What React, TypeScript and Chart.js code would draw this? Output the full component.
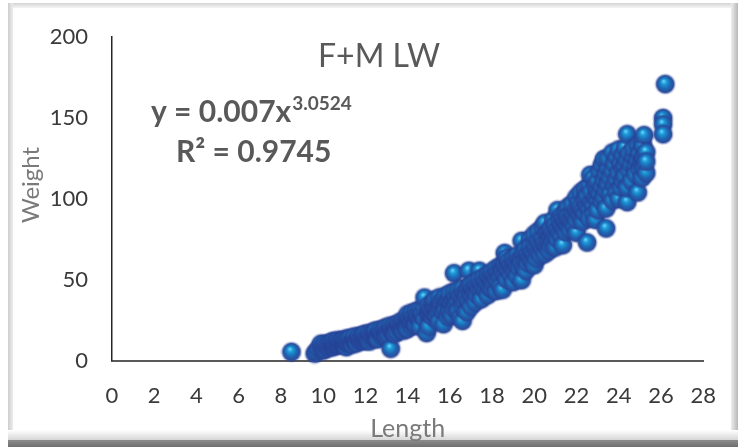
import React, { useEffect, useRef } from 'react';
import { Chart, registerables } from 'chart.js';

Chart.register(...registerables);

// ---- data ----
const chartTitle = 'F+M LW';
const equationMain = 'y = 0.007x';
const equationExponent = '3.0524';
const rSquaredText = 'R² = 0.9745';
const xAxisTitle = 'Length';
const yAxisTitle = 'Weight';
const xMin = 0, xMax = 28, xStep = 2;
const yMin = 0, yMax = 200, yStep = 50;

const lengths: number[] = [
  8.5, 9.6, 9.7, 9.8, 9.9, 10.0, 10.0, 10.1, 10.1, 10.2, 10.3, 10.3, 10.4, 10.4,
  10.5, 10.5, 10.5, 10.6, 10.6, 10.7, 10.7, 10.8, 10.8, 10.9, 10.9,
  11.0, 11.0, 11.0, 11.1, 11.1, 11.1, 11.2, 11.2, 11.3, 11.3, 11.4, 11.4,
  11.5, 11.5, 11.5, 11.6, 11.6, 11.7, 11.7, 11.8, 11.8, 11.9, 11.9,
  12.0, 12.0, 12.0, 12.1, 12.1, 12.2, 12.2, 12.2, 12.3, 12.3, 12.4, 12.4,
  12.5, 12.5, 12.5, 12.6, 12.6, 12.7, 12.7, 12.8, 12.8, 12.9, 12.9,
  13.0, 13.0, 13.0, 13.1, 13.1, 13.2, 13.2, 13.2, 13.3, 13.3, 13.4, 13.4, 13.4,
  13.5, 13.5, 13.6, 13.6, 13.7, 13.7, 13.8, 13.8, 13.8, 13.9, 13.9,
  14.0, 14.0, 14.0, 14.0, 14.1, 14.1, 14.2, 14.2, 14.2, 14.3, 14.3, 14.4, 14.4, 14.4,
  14.5, 14.5, 14.6, 14.6, 14.6, 14.7, 14.7, 14.8, 14.8, 14.8, 14.9,
  15.0, 15.0, 15.0, 15.0, 15.1, 15.1, 15.2, 15.2, 15.2, 15.3, 15.3, 15.3, 15.4, 15.4,
  15.5, 15.5, 15.5, 15.5, 15.6, 15.6, 15.7, 15.7, 15.7, 15.8, 15.8, 15.8, 15.9, 15.9,
  16.0, 16.0, 16.0, 16.0, 16.1, 16.1, 16.2, 16.2, 16.2, 16.2, 16.3, 16.3, 16.4, 16.4, 16.4,
  16.5, 16.5, 16.6, 16.6, 16.6, 16.6, 16.7, 16.7, 16.8, 16.8, 16.8, 16.9, 16.9, 16.9,
  17.0, 17.0, 17.0, 17.1, 17.1, 17.2, 17.2, 17.2, 17.3, 17.3, 17.4, 17.4, 17.4,
  17.5, 17.5, 17.5, 17.6, 17.6, 17.7, 17.7, 17.8, 17.8, 17.8, 17.9, 17.9,
  18.0, 18.0, 18.0, 18.1, 18.1, 18.2, 18.2, 18.2, 18.3, 18.3, 18.4, 18.4, 18.4,
  18.5, 18.5, 18.5, 18.6, 18.6, 18.6, 18.7, 18.7, 18.7, 18.8, 18.8, 18.9, 18.9,
  19.0, 19.0, 19.0, 19.1, 19.1, 19.2, 19.2, 19.2, 19.3, 19.3, 19.4, 19.4, 19.4, 19.4,
  19.5, 19.5, 19.6, 19.6, 19.6, 19.7, 19.7, 19.8, 19.8, 19.8, 19.9, 19.9,
  20.0, 20.0, 20.0, 20.0, 20.1, 20.1, 20.2, 20.2, 20.2, 20.3, 20.3, 20.4, 20.4, 20.4,
  20.5, 20.5, 20.5, 20.6, 20.6, 20.7, 20.7, 20.7, 20.8, 20.8, 20.8, 20.9, 20.9, 20.9,
  21.0, 21.0, 21.0, 21.1, 21.1, 21.1, 21.2, 21.2, 21.3, 21.3, 21.3, 21.35, 21.4, 21.4,
  21.5, 21.5, 21.5, 21.6, 21.6, 21.6, 21.7, 21.7, 21.8, 21.8, 21.8, 21.9, 21.9,
  22.0, 22.0, 22.0, 22.0, 22.1, 22.1, 22.2, 22.2, 22.2, 22.3, 22.3, 22.4, 22.4, 22.4,
  22.5, 22.5, 22.5, 22.6, 22.6, 22.6, 22.65, 22.7, 22.7, 22.8, 22.8, 22.8, 22.9, 22.9, 22.9,
  23.0, 23.0, 23.0, 23.0, 23.1, 23.1, 23.2, 23.2, 23.2, 23.3, 23.3, 23.3, 23.4, 23.4, 23.4, 23.4,
  23.5, 23.5, 23.5, 23.6, 23.6, 23.7, 23.7, 23.7, 23.8, 23.8, 23.9, 23.9, 23.9,
  24.0, 24.0, 24.0, 24.1, 24.1, 24.2, 24.2, 24.2, 24.3, 24.3, 24.3, 24.4, 24.4, 24.4, 24.4,
  24.5, 24.5, 24.6, 24.6, 24.7, 24.7, 24.8, 24.8, 24.9, 24.9, 24.9,
  25.0, 25.0, 25.1, 25.1, 25.1, 25.15, 25.15, 25.2, 25.2, 25.2, 25.3, 25.3, 25.3,
  26.1, 26.1, 26.1, 26.2,
];

const weights: number[] = [
  5.3, 4.3, 5.5, 7.5, 10.3, 6.3, 8.5, 7.2, 10.3, 9.0, 8.0, 10.5, 9.2, 11.5,
  8.5, 10.0, 12.0, 9.5, 11.0, 10.2, 12.5, 9.8, 11.8, 10.5, 12.2,
  9.6, 11.0, 13.0, 8.3, 11.5, 12.8, 10.8, 13.5, 11.6, 14.0, 12.0, 10.0,
  11.8, 13.2, 14.8, 12.6, 10.8, 13.0, 15.2, 12.2, 14.0, 13.5, 15.8,
  12.0, 14.2, 16.5, 13.0, 15.0, 14.5, 17.0, 11.8, 13.8, 16.0, 15.2, 17.8,
  14.0, 16.5, 18.5, 15.8, 13.2, 16.8, 19.0, 15.0, 17.5, 16.2, 19.8,
  17.0, 15.0, 20.5, 18.0, 16.0, 7.3, 19.0, 21.5, 17.5, 20.0, 18.8, 22.0, 16.5,
  20.5, 18.0, 21.0, 23.5, 19.5, 22.5, 21.8, 24.8, 18.5, 20.5, 23.5,
  22.0, 25.5, 19.5, 28.5, 23.0, 26.5, 21.5, 24.5, 29.5, 23.8, 27.0, 25.0, 22.0, 30.5,
  26.0, 28.5, 24.5, 31.5, 21.0, 27.5, 29.5, 25.5, 33.0, 38.9, 17.0,
  27.0, 30.0, 34.0, 21.0, 28.5, 32.0, 26.5, 35.5, 30.5, 29.0, 33.0, 37.5, 31.0, 27.5,
  34.5, 30.0, 39.0, 24.0, 32.5, 36.0, 29.5, 38.0, 22.5, 34.0, 31.5, 40.0, 36.5, 27.0,
  33.0, 38.0, 41.5, 30.0, 35.5, 28.0, 54.0, 37.5, 42.5, 32.0, 39.0, 34.5, 36.5, 43.5, 30.5,
  40.0, 26.5, 38.0, 44.5, 24.5, 33.5, 41.5, 36.0, 43.0, 39.0, 30.0, 55.5, 45.5, 37.0,
  41.0, 47.0, 33.5, 44.0, 39.5, 42.5, 48.5, 36.0, 46.0, 40.5, 55.5, 44.0, 50.0,
  47.5, 42.0, 38.0, 45.5, 51.5, 49.0, 43.0, 47.0, 53.0, 40.5, 51.5, 45.0,
  49.0, 55.0, 44.0, 52.5, 47.0, 50.5, 57.0, 43.0, 54.5, 48.5, 52.0, 58.5, 45.5,
  57.6, 43.8, 55.0, 66.5, 53.5, 60.0, 63.5, 57.0, 50.0, 55.5, 61.5, 59.0, 52.5,
  57.0, 63.0, 48.5, 60.5, 55.0, 58.5, 65.0, 52.0, 62.5, 57.0, 74.0, 63.5, 49.7, 60.0,
  66.5, 58.0, 62.0, 69.0, 55.5, 65.5, 60.0, 75.0, 63.5, 70.5, 67.0, 61.0,
  65.5, 72.5, 78.0, 59.0, 69.5, 63.0, 67.0, 74.5, 80.0, 71.0, 65.0, 69.0, 76.5, 82.5,
  85.0, 72.5, 66.0, 70.5, 78.5, 79.0, 74.0, 68.0, 76.5, 82.0, 71.0, 87.0, 79.0, 73.5,
  77.0, 84.0, 70.0, 93.0, 81.0, 75.0, 79.0, 86.5, 83.5, 77.0, 90.0, 71.4, 81.5, 88.0,
  85.5, 79.5, 92.0, 95.0, 83.5, 89.0, 87.0, 81.0, 91.0, 85.0, 97.0, 89.0, 83.0,
  101.0, 79.0, 93.0, 87.0, 91.0, 97.5, 104.0, 89.0, 95.0, 93.0, 86.0, 99.5, 91.0, 106.0,
  73.0, 95.5, 102.0, 93.5, 108.0, 88.0, 114.8, 98.0, 104.5, 113.0, 96.0, 90.0, 87.0, 101.0, 108.0,
  99.0, 105.5, 111.0, 93.0, 103.0, 117.0, 107.5, 98.0, 121.0, 124.6, 111.5, 101.0, 81.7, 115.0, 105.0, 94.0,
  109.0, 119.0, 125.0, 103.0, 113.0, 128.6, 117.0, 99.0, 108.0, 121.5, 112.0, 126.0, 104.0,
  116.0, 130.5, 100.0, 107.0, 122.0, 118.0, 127.0, 111.0, 131.5, 120.0, 114.0, 140.0, 98.0, 124.0, 107.0,
  117.0, 128.0, 121.0, 111.0, 126.0, 131.0, 120.0, 115.0, 104.0, 124.0, 133.0,
  118.0, 128.0, 122.0, 135.0, 113.0, 124.6, 132.5, 139.4, 126.0, 119.0, 129.0, 116.0, 123.0,
  150.0, 146.0, 140.0, 171.0,
];

function makeSphere(d: number): HTMLCanvasElement {
  const c = document.createElement('canvas');
  c.width = d;
  c.height = d;
  const g = c.getContext('2d')!;
  const r = d / 2;
  const body = r - 2;
  // soft dark-blue halo
  const halo = g.createRadialGradient(r, r, body - 1, r, r, r);
  halo.addColorStop(0, 'rgba(38, 62, 150, 0.8)');
  halo.addColorStop(1, 'rgba(38, 62, 150, 0)');
  g.beginPath();
  g.arc(r, r, r, 0, Math.PI * 2);
  g.fillStyle = halo;
  g.fill();
  // sphere body
  g.beginPath();
  g.arc(r, r, body, 0, Math.PI * 2);
  const grad = g.createRadialGradient(r * 0.85, r * 0.72, r * 0.05, r, r, body);
  grad.addColorStop(0, '#6acdf8');
  grad.addColorStop(0.25, '#1b9bd9');
  grad.addColorStop(0.62, '#1f66b3');
  grad.addColorStop(1, '#2b4896');
  g.fillStyle = grad;
  g.fill();
  return c;
}

const overlayText = {
  id: 'overlayText',
  afterDraw(chart: any) {
    const ctx = chart.ctx as CanvasRenderingContext2D;
    ctx.save();
    ctx.fillStyle = '#595959';
    ctx.textAlign = 'left';
    ctx.textBaseline = 'alphabetic';
    ctx.font = '32px Lato';
    ctx.fillText(chartTitle, 318, 67);
    ctx.font = 'bold 30px Lato';
    ctx.fillText(equationMain, 151, 121.5);
    const w = ctx.measureText(equationMain).width;
    ctx.font = 'bold 19px Lato';
    ctx.fillText(equationExponent, 151 + w + 1, 110);
    ctx.font = 'bold 30px Lato';
    ctx.fillText(rSquaredText, 176, 161.5);
    // vertical axis title
    ctx.translate(31, 185);
    ctx.rotate(-Math.PI / 2);
    ctx.textAlign = 'center';
    ctx.textBaseline = 'middle';
    ctx.fillStyle = '#7a7a7a';
    ctx.font = '24px Lato';
    ctx.fillText(yAxisTitle, 0, 0);
    ctx.restore();
  },
};

export default function App() {
  const ref = useRef<HTMLCanvasElement>(null);

  useEffect(() => {
    if (!ref.current) return;
    Chart.defaults.font.family = 'Lato';
    const sphere = makeSphere(22);
    const points = lengths.map((x, i) => ({ x, y: weights[i] }));
    const chart = new Chart(ref.current, {
      type: 'scatter',
      data: {
        datasets: [
          {
            data: points,
            pointStyle: sphere as any,
            pointRadius: 10,
            clip: false as any,
          },
        ],
      },
      options: {
        animation: false,
        responsive: false,
        layout: { padding: { left: 0, right: 20, top: 22, bottom: 0 } },
        plugins: { legend: { display: false }, tooltip: { enabled: false }, title: { display: false } },
        scales: {
          x: {
            type: 'linear',
            min: xMin,
            max: xMax,
            ticks: { stepSize: xStep, padding: 22, color: '#3a3a3a', font: { size: 22 } },
            grid: { display: false, drawTicks: false },
            border: { display: true, color: '#595959', width: 2 },
            title: {
              display: true,
              text: xAxisTitle,
              color: '#7a7a7a',
              font: { size: 25 },
              padding: { top: 0, bottom: 3 },
            },
            afterFit: (s: any) => {
              s.height = 86.5;
            },
          },
          y: {
            type: 'linear',
            min: yMin,
            max: yMax,
            ticks: { stepSize: yStep, padding: 24, color: '#3a3a3a', font: { size: 22 } },
            grid: { display: false, drawTicks: false },
            border: { display: true, color: '#262626', width: 1.5 },
            title: { display: false },
            afterFit: (s: any) => {
              s.width = 112;
            },
          },
        },
      },
      plugins: [overlayText],
    });
    return () => chart.destroy();
  }, []);

  return (
    <div style={{ position: 'fixed', left: 0, top: 0, width: 738, height: 447, background: '#fff', overflow: 'hidden' }}>
      <div style={{ position: 'absolute', left: 8, top: 3, width: 727, height: 5, background: 'linear-gradient(#d4d4d4,#f5f5f5)' }} />
      <div style={{ position: 'absolute', left: 8, top: 3, width: 5, height: 437, background: 'linear-gradient(90deg,#cdcdcd,#ededed)' }} />
      <div style={{ position: 'absolute', left: 731, top: 3, width: 7, height: 437, background: 'linear-gradient(90deg,#eeeeee,#b8b8b8)' }} />
      <div style={{ position: 'absolute', left: 8, top: 430, width: 730, height: 10, background: 'linear-gradient(#ffffff,#d6d6d6)' }} />
      <div style={{ position: 'absolute', left: 8, top: 440, width: 730, height: 7, background: 'linear-gradient(#8c8c8c,#6f6f6f)' }} />
      <canvas ref={ref} width={738} height={447} style={{ position: 'absolute', left: 0, top: 0, width: 738, height: 447 }} />
    </div>
  );
}
